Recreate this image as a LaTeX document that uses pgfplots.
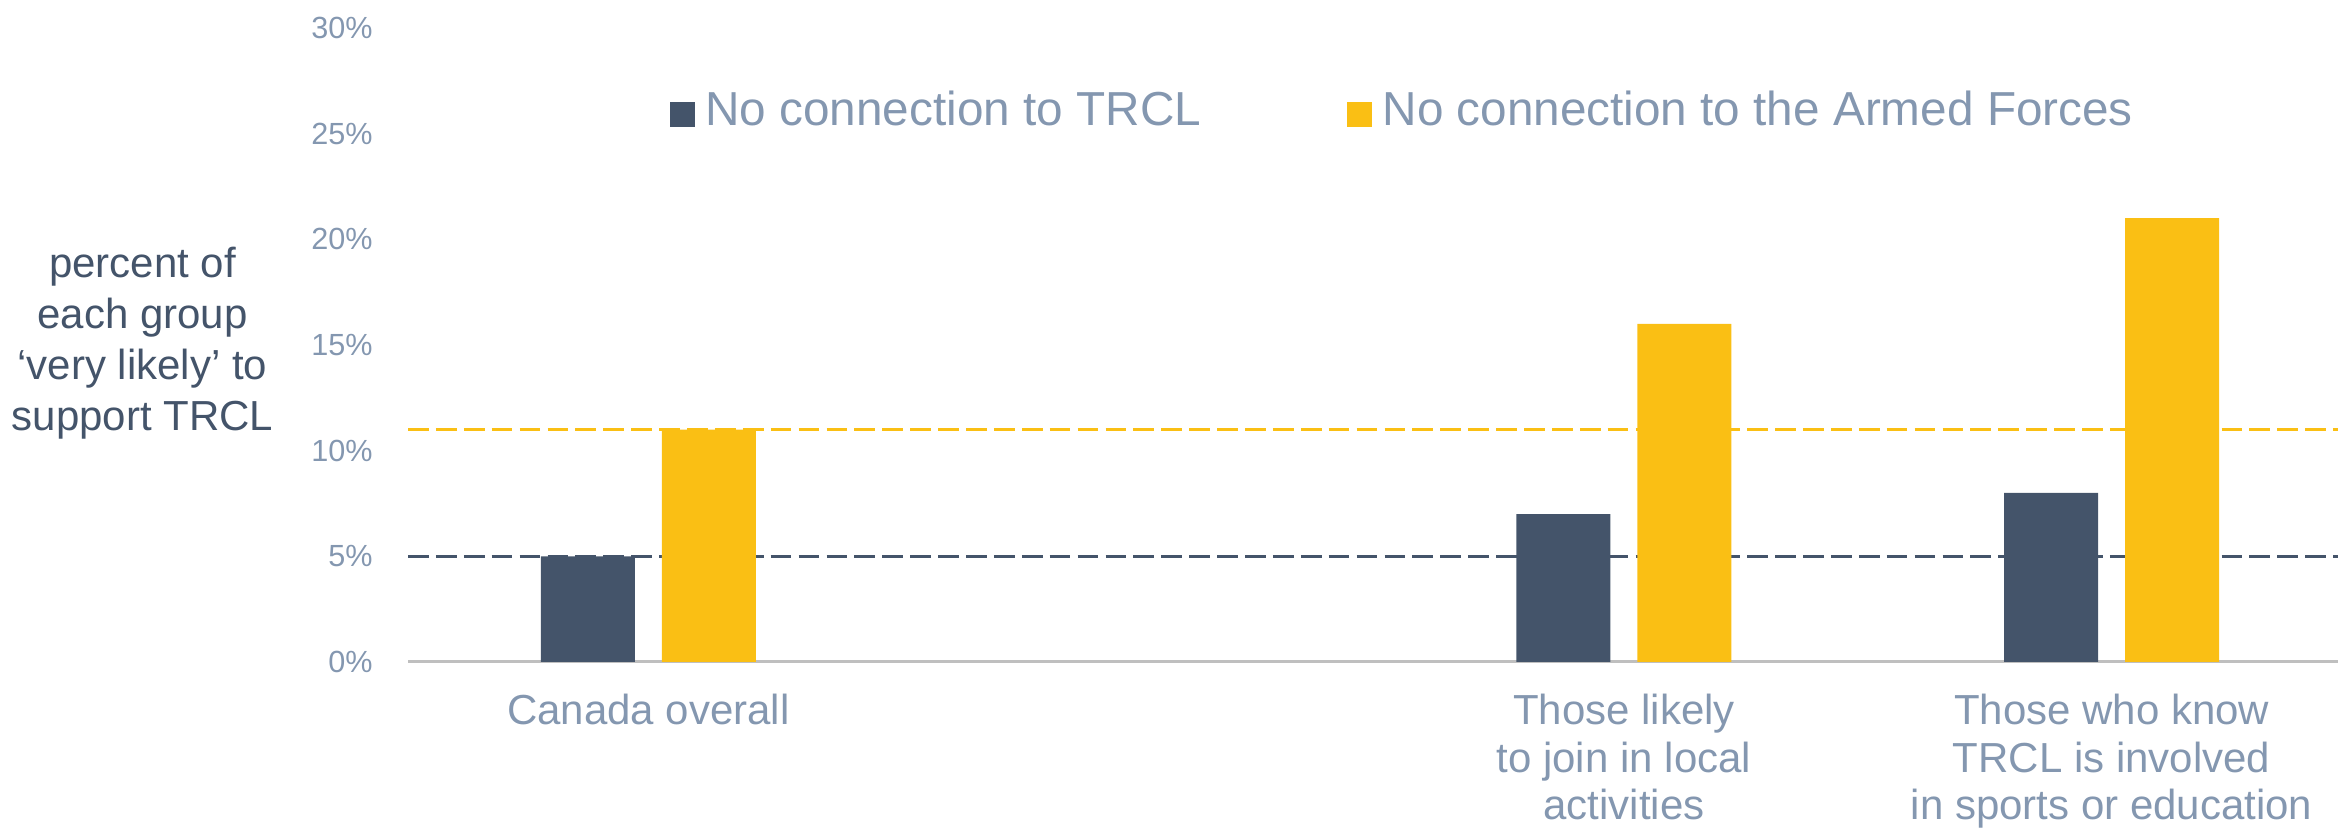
\documentclass[border=0pt]{standalone}
\usepackage{fontspec}
\setmainfont{Liberation Sans}
\usepackage{pgfplots}
\pgfplotsset{compat=1.18}
\definecolor{navy}{HTML}{44546A}
\definecolor{gold}{HTML}{FABF14}
\definecolor{slate}{HTML}{8497B0}
\definecolor{axisgray}{HTML}{BFBFBF}
\pgfplotsset{sqlegend/.style={legend image code/.code={\fill[##1] (0pt,-5.6pt) rectangle (8.3pt,2.7pt);}}}
\begin{document}
\begin{tikzpicture}
\useasboundingbox (0,0) rectangle (779.33pt,277.33pt);
\begin{axis}[
  at={(136pt,56.67pt)}, anchor=south west,
  scale only axis, width=643.3pt, height=211.33pt,
  xmin=-0.493, xmax=3.464, ymin=0, ymax=30,
  axis x line*=bottom, axis y line*=left,
  x axis line style={draw=axisgray, line width=1pt},
  y axis line style={draw=none},
  xtick={0,2,3},
  xticklabels={Canada overall, Those likely\\to join in local\\activities, Those who know\\TRCL is involved\\in sports or education},
  ytick={0,5,10,15,20,25,30},
  yticklabels={0\%,5\%,10\%,15\%,20\%,25\%,30\%},
  major tick length=0pt,
  tick style={draw=none},
  x tick label style={font=\fontsize{14}{15.8}\selectfont, text=slate, align=center, anchor=north, yshift=-7.2pt},
  y tick label style={font=\fontsize{10.2}{12}\selectfont, text=slate, anchor=east, xshift=-8.3pt},
  ylabel={percent of\\each group\\‘very likely’ to\\support TRCL},
  ylabel style={rotate=-90, at={(axis description cs:-0.1376,0.5036)}, anchor=center, align=center, font=\fontsize{14}{17}\selectfont, text=navy},
  legend columns=2,
  legend style={at={(0.1357,0.870)}, anchor=west, draw=none, fill=none, inner sep=0pt, outer sep=0pt,
    font=\fontsize{15.9}{18}\selectfont, text=slate, nodes={inner sep=0pt},
    /tikz/every odd column/.append style={column sep=3.5pt},
    /tikz/every even column/.append style={column sep=48.7pt}},
]
\addplot[gold, line width=0.9pt, dash pattern=on 6.9pt off 2.4pt, mark=none, forget plot] coordinates {(-0.493,11) (3.464,11)};
\addplot[navy, line width=0.9pt, dash pattern=on 6.9pt off 2.4pt, mark=none, forget plot] coordinates {(-0.493,5) (3.464,5)};
\addplot[ybar, bar width=31.33pt, bar shift=-20.17pt, fill=navy, draw=none, sqlegend] coordinates {(0,5) (2,7) (3,8)};
\addplot[ybar, bar width=31.33pt, bar shift=20.17pt, fill=gold, draw=none, sqlegend] coordinates {(0,11) (2,16) (3,21)};
\legend{No connection to TRCL, No connection to the Armed Forces}
\end{axis}
\end{tikzpicture}
\end{document}
